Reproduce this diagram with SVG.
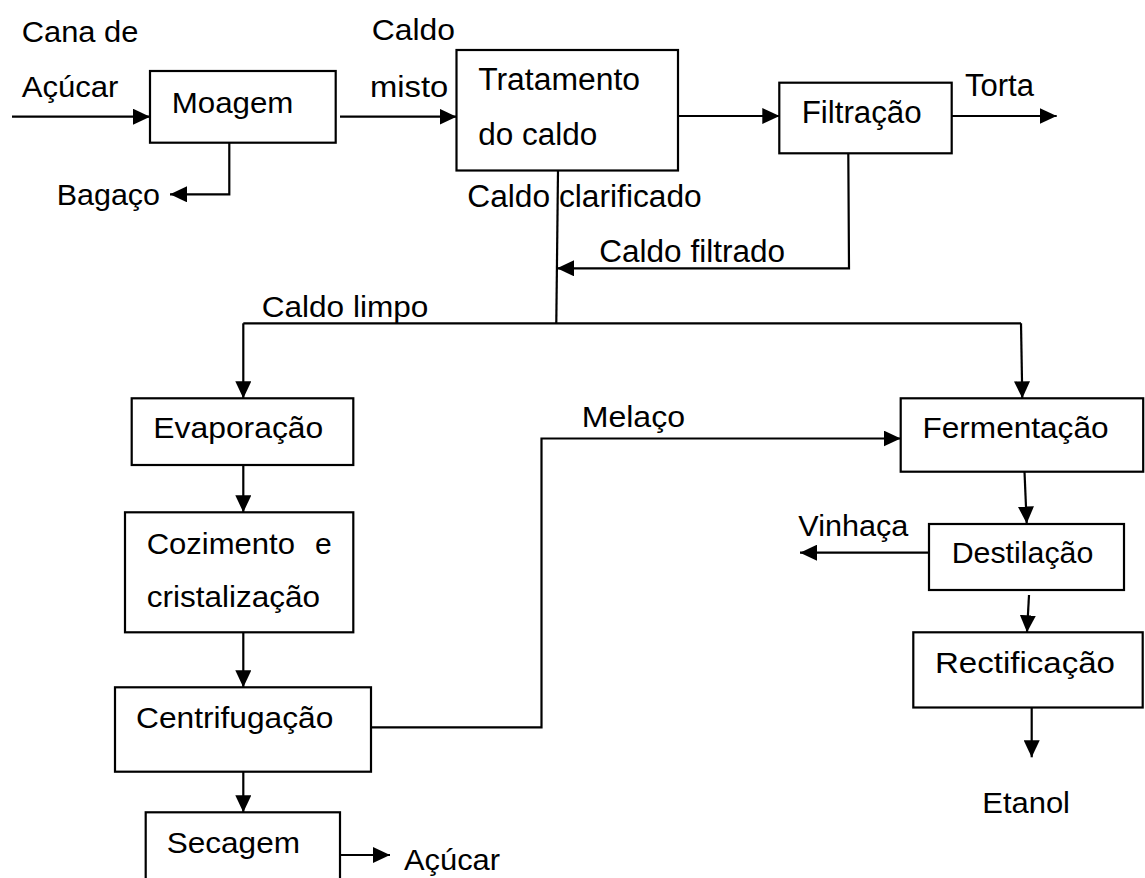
<svg xmlns="http://www.w3.org/2000/svg" width="1145" height="878" viewBox="0 0 1145 878">
<defs>
<style>
.box{fill:#fff;stroke:#000;stroke-width:2.2}
.ln{fill:none;stroke:#000;stroke-width:2.2}
.ar{fill:none;stroke:#000;stroke-width:2.2;marker-end:url(#ah)}
text{font-family:"Liberation Sans",Arial,sans-serif;fill:#000}
.a{font-size:30px}
.b{font-size:31px}
</style>
<marker id="ah" markerUnits="userSpaceOnUse" markerWidth="17" markerHeight="16" refX="17" refY="8" orient="auto">
<path d="M0,0 L17,8 L0,16 z" fill="#000"/>
</marker>
</defs>
<rect width="1145" height="878" fill="#fff"/>

<g id="connectors">
<line class="ar" x1="12" y1="116.7" x2="150" y2="116.7"/>
<polyline class="ar" points="229.3,143 229.3,194.3 170,194.3"/>
<line class="ar" x1="340" y1="116.7" x2="456.5" y2="116.7"/>
<line class="ar" x1="678" y1="116" x2="779.3" y2="116"/>
<line class="ar" x1="951.7" y1="116" x2="1056.7" y2="116"/>
<polyline class="ar" points="848.3,153.3 849,268.3 557,268.3"/>
<line class="ln" x1="558" y1="170.5" x2="556.3" y2="323.3"/>
<polyline class="ln" points="243.3,323.3 1021,323.3"/>
<line class="ar" x1="243.3" y1="323.3" x2="243.3" y2="398.3"/>
<line class="ar" x1="1021" y1="323.3" x2="1022.3" y2="398.3"/>
<line class="ar" x1="243.3" y1="465" x2="243.3" y2="512.3"/>
<line class="ar" x1="243.3" y1="632.3" x2="243.3" y2="687.3"/>
<line class="ar" x1="243.3" y1="771.7" x2="243.3" y2="812.3"/>
<line class="ar" x1="340.7" y1="855" x2="390" y2="855"/>
<polyline class="ar" points="371,727.3 541.5,727.3 541.5,438.5 900.7,438.5"/>
<line class="ar" x1="1024.5" y1="471.7" x2="1026.7" y2="523.5"/>
<line class="ar" x1="929" y1="552.7" x2="800" y2="552.7"/>
<line class="ar" x1="1029" y1="595" x2="1027" y2="632.3"/>
<line class="ar" x1="1031.7" y1="707.5" x2="1031.7" y2="757.3"/>
</g>

<g id="labels">
<text class="a" x="21.7" y="41.7" textLength="116.7" lengthAdjust="spacingAndGlyphs">Cana de</text>
<text class="a" x="21.7" y="96.7" textLength="96.7" lengthAdjust="spacingAndGlyphs">Açúcar</text>
<text class="a" x="56.7" y="205" textLength="103.3" lengthAdjust="spacingAndGlyphs">Bagaço</text>
<text class="a" x="371.7" y="40" textLength="83.3" lengthAdjust="spacingAndGlyphs">Caldo</text>
<text class="a" x="370" y="96.7" textLength="78.3" lengthAdjust="spacingAndGlyphs">misto</text>
<text class="b" x="965" y="96" textLength="69" lengthAdjust="spacingAndGlyphs">Torta</text>
<text class="b" x="467.3" y="206.7" textLength="234.4" lengthAdjust="spacingAndGlyphs">Caldo clarificado</text>
<text class="b" x="599.3" y="261.7" textLength="185.7" lengthAdjust="spacingAndGlyphs">Caldo filtrado</text>
<text class="a" x="261.7" y="317" textLength="166.7" lengthAdjust="spacingAndGlyphs">Caldo limpo</text>
<text class="a" x="581.7" y="426.7" textLength="103.3" lengthAdjust="spacingAndGlyphs">Melaço</text>
<text class="a" x="798.3" y="535.7" textLength="110" lengthAdjust="spacingAndGlyphs">Vinhaça</text>
<text class="a" x="404" y="870" textLength="96" lengthAdjust="spacingAndGlyphs">Açúcar</text>
<text class="a" x="982.3" y="813.3" textLength="87.7" lengthAdjust="spacingAndGlyphs">Etanol</text>
</g>

<g id="moagem">
<rect class="box" x="150" y="71" width="185.7" height="71.7"/>
<text class="a" x="171.7" y="113.3" textLength="121.7" lengthAdjust="spacingAndGlyphs">Moagem</text>
</g>

<g id="tratamento">
<rect class="box" x="456.5" y="50" width="221.5" height="120.5"/>
<text class="b" x="478.2" y="89.5" textLength="161.8" lengthAdjust="spacingAndGlyphs">Tratamento</text>
<text class="b" x="478.2" y="145" textLength="119" lengthAdjust="spacingAndGlyphs">do caldo</text>
</g>

<g id="filtracao">
<rect class="box" x="779.3" y="82.7" width="172.4" height="70.6"/>
<text class="b" x="801.7" y="123.3" textLength="120" lengthAdjust="spacingAndGlyphs">Filtração</text>
</g>

<g id="evaporacao">
<rect class="box" x="131.7" y="398.3" width="221.6" height="66.7"/>
<text class="a" x="153.3" y="438.3" textLength="170" lengthAdjust="spacingAndGlyphs">Evaporação</text>
</g>

<g id="cozimento">
<rect class="box" x="125" y="512.3" width="228.3" height="120"/>
<text class="a" y="554"><tspan x="146.7" textLength="148.3" lengthAdjust="spacingAndGlyphs">Cozimento</tspan><tspan x="315" textLength="16.7" lengthAdjust="spacingAndGlyphs">e</tspan></text>
<text class="a" x="146.7" y="606.7" textLength="173.3" lengthAdjust="spacingAndGlyphs">cristalização</text>
</g>

<g id="centrifugacao">
<rect class="box" x="115" y="687.3" width="256" height="84.4"/>
<text class="a" x="136" y="728.3" textLength="197.3" lengthAdjust="spacingAndGlyphs">Centrifugação</text>
</g>

<g id="secagem">
<rect class="box" x="145.7" y="812.3" width="194.3" height="70"/>
<text class="a" x="166.7" y="853.3" textLength="133.3" lengthAdjust="spacingAndGlyphs">Secagem</text>
</g>

<g id="fermentacao">
<rect class="box" x="900.7" y="398.3" width="242.5" height="73.4"/>
<text class="a" x="922.5" y="438" textLength="186" lengthAdjust="spacingAndGlyphs">Fermentação</text>
</g>

<g id="destilacao">
<rect class="box" x="929" y="524" width="195" height="66"/>
<text class="a" x="951.7" y="563.3" textLength="141.6" lengthAdjust="spacingAndGlyphs">Destilação</text>
</g>

<g id="rectificacao">
<rect class="box" x="913.3" y="632.3" width="229.4" height="75.2"/>
<text class="a" x="935" y="673.3" textLength="180" lengthAdjust="spacingAndGlyphs">Rectificação</text>
</g>
</svg>
